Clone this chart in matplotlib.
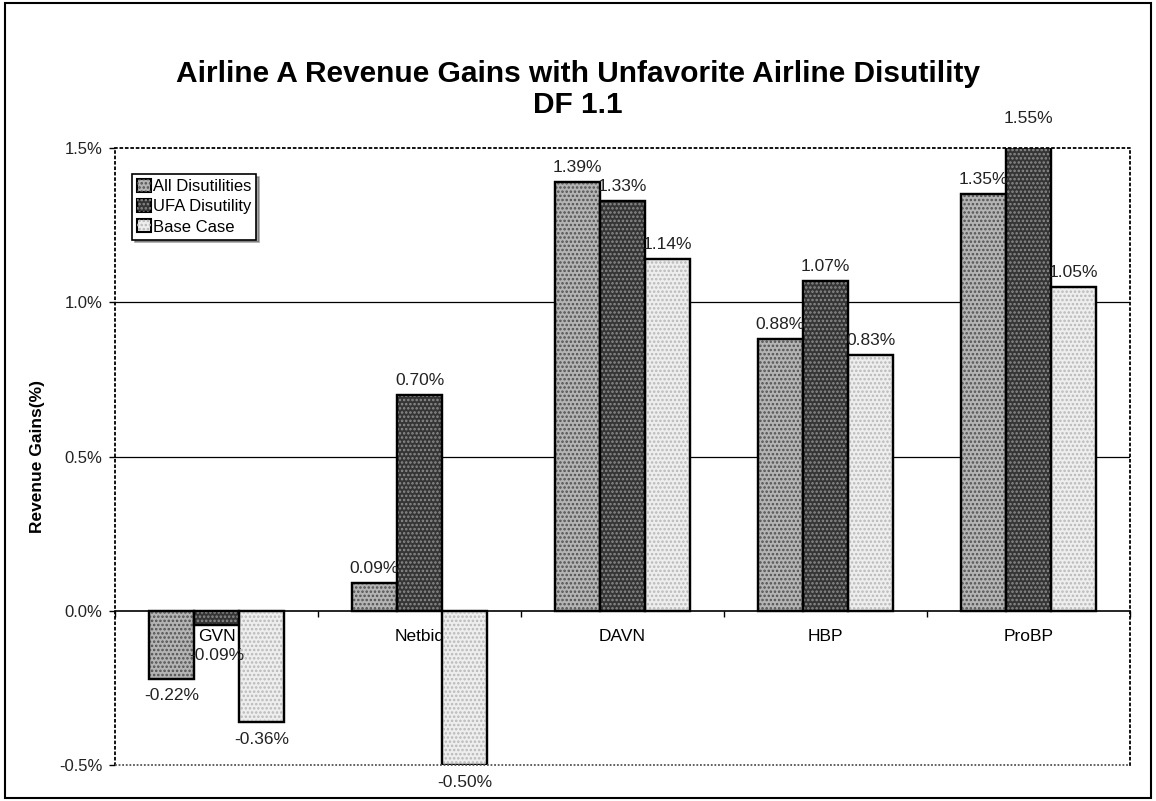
import matplotlib.pyplot as plt
import matplotlib.patches as mpatches
import numpy as np

plt.rcParams['font.family'] = ['Liberation Sans', 'DejaVu Sans']
plt.rcParams['hatch.linewidth'] = 1.2

categories = ['GVN', 'Netbid', 'DAVN', 'HBP', 'ProBP']
series = ['All Disutilities', 'UFA Disutility', 'Base Case']

# bar heights as drawn, and the labels printed on them
all_dis = [-0.22, 0.09, 1.39, 0.88, 1.35]
ufa_dis = [-0.045, 0.70, 1.33, 1.07, 1.55]
base_case = [-0.36, -0.50, 1.14, 0.83, 1.05]
all_lab = ['-0.22%', '0.09%', '1.39%', '0.88%', '1.35%']
ufa_lab = ['-0.09%', '0.70%', '1.33%', '1.07%', '1.55%']
base_lab = ['-0.36%', '-0.50%', '1.14%', '0.83%', '1.05%']
label_pos = [[-0.22, 0.09, 1.39, 0.88, 1.35],
             [-0.09, 0.70, 1.33, 1.07, 1.55],
             [-0.36, -0.50, 1.14, 0.83, 1.05]]

faces = ['#b4b4b4', '#353535', '#eeeeee']
dots = ['#505050', '#8c8c8c', '#b8b8b8']

fig = plt.figure(figsize=(11.56, 8.01), dpi=100)
ax = fig.add_axes([0.0995, 0.045, 0.878, 0.770])

x = np.arange(len(categories))
w = 0.223
handles = []
for i, (vals, labs) in enumerate(zip([all_dis, ufa_dis, base_case], [all_lab, ufa_lab, base_lab])):
    xs = x + (i - 1) * w
    ax.bar(xs, vals, w, color=faces[i], edgecolor='black', linewidth=1.6, zorder=2)
    ax.bar(xs, vals, w, facecolor='none', edgecolor=dots[i], hatch='....', linewidth=0, zorder=2.1)
    ax.bar(xs, vals, w, facecolor='none', edgecolor='black', linewidth=1.6, zorder=2.2)
    handles.append((mpatches.Patch(facecolor=faces[i], edgecolor='black', linewidth=1.5),
                    mpatches.Patch(facecolor='none', edgecolor=dots[i], hatch='....', linewidth=0)))
    for xi, yv, t in zip(xs, label_pos[i], labs):
        if yv >= 0:
            ax.annotate(t, (xi, yv), xytext=(0, 5), textcoords='offset points',
                        ha='center', va='bottom', fontsize=12.5, color='#222222',
                        annotation_clip=False, zorder=5)
        else:
            ax.annotate(t, (xi, yv), xytext=(0, -7), textcoords='offset points',
                        ha='center', va='top', fontsize=12.5, color='#222222',
                        annotation_clip=False, zorder=5)

ax.set_xlim(-0.5, len(categories) - 0.5)
ax.set_ylim(-0.5, 1.5)
ax.set_axisbelow(True)

ax.set_yticks([-0.5, 0.0, 0.5, 1.0, 1.5])
ax.set_yticklabels(['-0.5%', '0.0%', '0.5%', '1.0%', '1.5%'], fontsize=12, color='#222222')
ax.tick_params(axis='y', direction='out', length=4, width=1, pad=5)

for yv in [0.5, 1.0]:
    ax.axhline(yv, color='black', linewidth=0.9, zorder=0.5)

ax.spines['bottom'].set_position(('data', 0))
ax.spines['bottom'].set_linewidth(1.2)
ax.set_xticks(np.arange(len(categories) + 1) - 0.5)
ax.set_xticklabels([])
ax.tick_params(axis='x', which='major', direction='out', length=4, width=1)
ax.set_xticks(x, minor=True)
ax.set_xticklabels(categories, minor=True, fontsize=12.5)
ax.tick_params(axis='x', which='minor', length=0, pad=13)

for s in ['top', 'left', 'right']:
    ax.spines[s].set_linestyle((0, (1, 2)))
    ax.spines[s].set_linewidth(1.3)
ax.axhline(-0.5, color='#555555', linewidth=1.3, linestyle=(0, (1, 1)), zorder=3, clip_on=False)

ax.set_ylabel('Revenue Gains(%)', fontsize=12.5, fontweight='bold', labelpad=10)

leg = ax.legend(handles, series, loc='upper left', bbox_to_anchor=(0.017, 0.958),
                fontsize=12, frameon=True, fancybox=False, shadow=True,
                handlelength=0.8, handleheight=0.8, handletextpad=0.15,
                labelspacing=0.3, borderpad=0.3, borderaxespad=0)
leg.get_frame().set_edgecolor('black')
leg.get_frame().set_linewidth(1.2)

fig.text(0.5, 0.907, 'Airline A Revenue Gains with Unfavorite Airline Disutility',
         ha='center', va='center', fontsize=21.5, fontweight='bold')
fig.text(0.5, 0.869, 'DF 1.1', ha='center', va='center', fontsize=21.5, fontweight='bold')

fig.patches.append(mpatches.Rectangle((0.004, 0.004), 0.992, 0.992, transform=fig.transFigure,
                                      fill=False, edgecolor='black', linewidth=1.5))

fig.savefig('out.png', dpi=100)
